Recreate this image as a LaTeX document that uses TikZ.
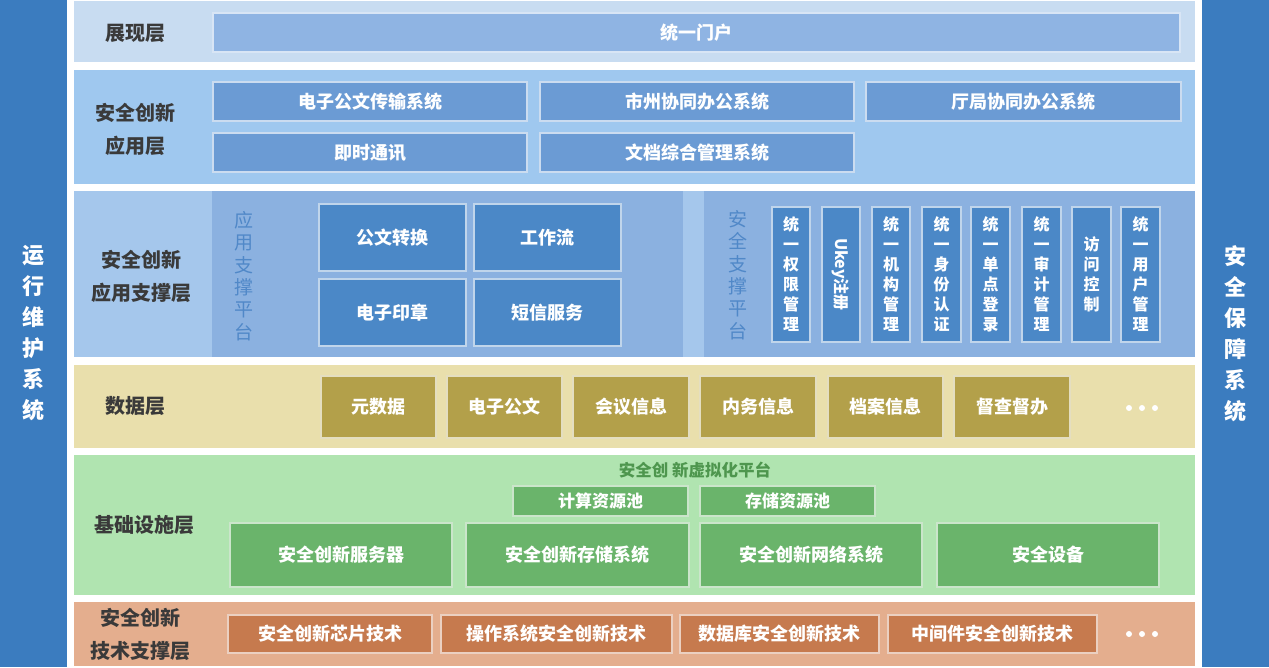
\documentclass[tikz,border=0pt]{standalone}
\usepackage{fontspec}
\setmainfont{Noto Sans CJK SC}
\definecolor{sidebar}{HTML}{3B7CBF}
\definecolor{showbg}{HTML}{C8DCF1}
\definecolor{showbox}{HTML}{8FB4E3}
\definecolor{appbg}{HTML}{9FC8EF}
\definecolor{appbox}{HTML}{6B9BD4}
\definecolor{supbg}{HTML}{A5C7EC}
\definecolor{suppanel}{HTML}{8BB1E0}
\definecolor{supbox}{HTML}{4B88C7}
\definecolor{suptext}{HTML}{5088C8}
\definecolor{databg}{HTML}{E9DFAC}
\definecolor{databox}{HTML}{B3A04A}
\definecolor{infrabg}{HTML}{B0E4B0}
\definecolor{infrabox}{HTML}{6AB46B}
\definecolor{infratext}{HTML}{4E964E}
\definecolor{techbg}{HTML}{E4AE8E}
\definecolor{techbox}{HTML}{C67A4E}
\definecolor{labtext}{HTML}{3A3A3A}
\newcommand\boxfont{\fontsize{18}{20}\selectfont\bfseries}
\newcommand\vfont{\fontsize{16}{20}\selectfont\bfseries}
\newcommand\labfont{\fontsize{20}{33}\selectfont\bfseries}
\newcommand\rb[7]{\node[#2, minimum width={(#5-#3)*1pt}, minimum height={(#6-#4)*1pt}] (#1) at ({(#3+#5)/2},{(#4+#6)/2}) {#7};}
\tikzset{
  lay/.style={fill=#1, draw=none, inner sep=0pt, outer sep=0pt},
  bx/.style={fill=#1, draw=white!65!#1, line width=1.2pt, text=white, font=\boxfont, inner sep=0pt, align=center},
  vbx/.style={fill=#1, draw=white!65!#1, line width=1.2pt, text=white, font=\vfont, inner sep=0pt, align=center},
  lbl/.style={text=labtext, font=\labfont, align=center, inner sep=0pt},
  side/.style={fill=sidebar, draw=none, inner sep=0pt, text=white, align=center, font=\fontsize{22}{31}\selectfont\bfseries},
  plat/.style={text=suptext, font=\fontsize{19}{22.4}\selectfont, align=center, inner sep=0pt},
  dot/.style={fill=white, draw=none},
}
\begin{document}
\begin{tikzpicture}[x=1pt,y=-1pt]
\useasboundingbox (0,0) rectangle (1269,667);
\fill[white] (0,0) rectangle (1269,667);
% side bars
\rb{ops}{side}{0}{0}{67}{667}{运\\行\\维\\护\\系\\统}
\rb{sec}{side}{1202}{0}{1269}{667}{安\\全\\保\\障\\系\\统}
% layer backgrounds
\rb{Lshow}{lay=showbg}{74}{1}{1195}{62}{}
\rb{Lapp}{lay=appbg}{74}{70}{1195}{184}{}
\rb{Lsup}{lay=supbg}{74}{191}{1195}{357}{}
\rb{Psupa}{lay=suppanel}{212}{191}{683}{357}{}
\rb{Psupb}{lay=suppanel}{704}{191}{1195}{357}{}
\rb{Ldata}{lay=databg}{74}{365}{1195}{448}{}
\rb{Linfra}{lay=infrabg}{74}{455}{1195}{595}{}
\rb{Ltech}{lay=techbg}{74}{602}{1195}{666}{}
% labels
\node[lbl] (t1) at (135,33) {展现层};
\node[lbl] (t2) at (135,129) {安全创新\\应用层};
\node[lbl] (t3) at (141,276) {安全创新\\应用支撑层};
\node[lbl] (t4) at (135,406) {数据层};
\node[lbl] (t5) at (144,525) {基础设施层};
\node[lbl] (t6) at (140,634) {安全创新\\技术支撑层};
% presentation
\rb{portal}{bx=showbox}{213}{13}{1180}{52}{统一门户}
% application
\rb{a1}{bx=appbox}{213}{82}{527}{121}{电子公文传输系统}
\rb{a2}{bx=appbox}{540}{82}{854}{121}{市州协同办公系统}
\rb{a3}{bx=appbox}{866}{82}{1181}{121}{厅局协同办公系统}
\rb{a4}{bx=appbox}{213}{133}{527}{172}{即时通讯}
\rb{a5}{bx=appbox}{540}{133}{854}{172}{文档综合管理系统}
% support
\node[plat] (pa) at (244,276) {应\\用\\支\\撑\\平\\台};
\node[plat] (pb) at (738,275) {安\\全\\支\\撑\\平\\台};
\rb{s1}{bx=supbox}{319}{204}{466}{271}{公文转换}
\rb{s2}{bx=supbox}{474}{204}{621}{271}{工作流}
\rb{s3}{bx=supbox}{319}{279}{466}{346}{电子印章}
\rb{s4}{bx=supbox}{474}{279}{621}{346}{短信服务}
\rb{v1}{vbx=supbox}{772}{207}{810}{342}{统\\一\\权\\限\\管\\理}
\rb{v2}{vbx=supbox}{822}{207}{860}{342}{}
\node[text=white, font=\vfont, rotate=-90, inner sep=0pt] (v2t) at (v2.center) {Ukey注册};
\rb{v3}{vbx=supbox}{872}{207}{910}{342}{统\\一\\机\\构\\管\\理}
\rb{v4}{vbx=supbox}{922}{207}{961}{342}{统\\一\\身\\份\\认\\证}
\rb{v5}{vbx=supbox}{971}{207}{1010}{342}{统\\一\\单\\点\\登\\录}
\rb{v6}{vbx=supbox}{1022}{207}{1061}{342}{统\\一\\审\\计\\管\\理}
\rb{v7}{vbx=supbox}{1072}{207}{1111}{342}{访\\问\\控\\制}
\rb{v8}{vbx=supbox}{1121}{207}{1160}{342}{统\\一\\用\\户\\管\\理}
% data
\rb{d1}{bx=databox}{321}{376}{436}{438}{元数据}
\rb{d2}{bx=databox}{447}{376}{562}{438}{电子公文}
\rb{d3}{bx=databox}{573}{376}{689}{438}{会议信息}
\rb{d4}{bx=databox}{700}{376}{816}{438}{内务信息}
\rb{d5}{bx=databox}{828}{376}{943}{438}{档案信息}
\rb{d6}{bx=databox}{954}{376}{1070}{438}{督查督办}
\fill[dot] (1129,408) circle (3);
\fill[dot] (1142,408) circle (3);
\fill[dot] (1155,408) circle (3);
% infrastructure
\node[text=infratext, font=\fontsize{16.5}{18}\selectfont\bfseries, inner sep=0pt] (virt) at (695,470) {安全创 新虚拟化平台};
\rb{p1}{bx=infrabox, font=\fontsize{17}{18}\selectfont\bfseries}{513}{486}{688}{516}{计算资源池}
\rb{p2}{bx=infrabox, font=\fontsize{17}{18}\selectfont\bfseries}{700}{486}{875}{516}{存储资源池}
\rb{i1}{bx=infrabox}{230}{523}{452}{587}{安全创新服务器}
\rb{i2}{bx=infrabox}{466}{523}{689}{587}{安全创新存储系统}
\rb{i3}{bx=infrabox}{700}{523}{922}{587}{安全创新网络系统}
\rb{i4}{bx=infrabox}{937}{523}{1159}{587}{安全设备}
% technology
\rb{k1}{bx=techbox}{228}{615}{432}{653}{安全创新芯片技术}
\rb{k2}{bx=techbox}{441}{615}{672}{653}{操作系统安全创新技术}
\rb{k3}{bx=techbox}{680}{615}{879}{653}{数据库安全创新技术}
\rb{k4}{bx=techbox}{888}{615}{1097}{653}{中间件安全创新技术}
\fill[dot] (1129,634) circle (3);
\fill[dot] (1142,634) circle (3);
\fill[dot] (1155,634) circle (3);
\end{tikzpicture}
\end{document}
